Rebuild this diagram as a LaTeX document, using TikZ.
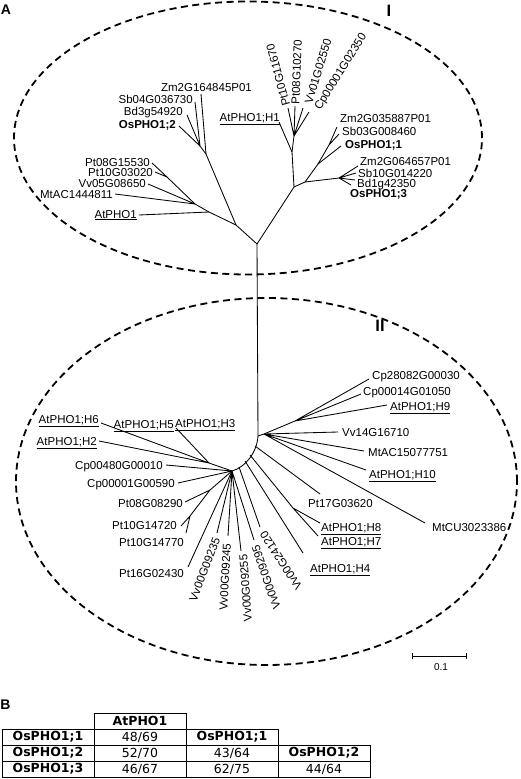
\documentclass[tikz,border=0pt]{standalone}
\usepackage{fontspec}
\setmainfont{Liberation Sans}
\newfontfamily\tabfont{DejaVu Sans}
\begin{document}
\begin{tikzpicture}[x=1pt,y=-1pt,
  br/.style={line width=0.85pt},
  ell/.style={line width=1.8pt, dash pattern=on 7pt off 4.5pt},
  lab/.style={inner sep=0pt, font=\fontsize{11.5}{13}\selectfont, text height=8.2pt, text depth=0pt},
  blab/.style={lab, font=\fontsize{11.5}{13}\selectfont\bfseries},
  tcell/.style={draw, line width=0.9pt, minimum width=92pt, minimum height=16pt, inner sep=0pt, font=\tabfont\fontsize{12.5}{14}\selectfont},
  tbold/.style={tcell, font=\tabfont\fontsize{12.5}{14}\selectfont\bfseries},
  panel/.style={inner sep=0pt, font=\fontsize{14}{16}\selectfont\bfseries},
  clus/.style={inner sep=0pt, font=\fontsize{16.5}{18}\selectfont\bfseries}]
\useasboundingbox (0,0) rectangle (520,779);

% panel and cluster labels
\node[panel] (pA) at (6,9.5) {A};
\node[panel] (pB) at (5.5,705) {B};
\node[clus] (cI) at (389,11) {I};
\node[clus] (cII) at (380,326) {II};

% ellipses
\draw[ell] (248,138) ellipse [x radius=234pt, y radius=136.5pt];
\draw[ell] (266.5,481.5) ellipse [x radius=250.5pt, y radius=183.5pt];

% ---------------- cluster I ----------------
\coordinate (A) at (257,244);
\coordinate (B) at (236,225);
\coordinate (H) at (209,212);
\coordinate (G) at (195,204);
\coordinate (Pn) at (167,177);
\coordinate (D) at (206,154);
\coordinate (E) at (200,146);
\coordinate (C) at (294,187);
\coordinate (J) at (292,152);
\coordinate (K) at (294,136);
\coordinate (L) at (305,182);
\coordinate (M) at (318,164);
\coordinate (N) at (329,145);
\coordinate (P) at (339,178);

\coordinate (tZmA) at (201,94);
\coordinate (tSb04) at (195,102);
\coordinate (tBd3) at (187,115);
\coordinate (tOs2) at (179,126);
\coordinate (tPt08) at (152,163);
\coordinate (tPt10) at (155,172);
\coordinate (tVv05) at (148,184);
\coordinate (tMt) at (115,194);
\coordinate (tAt) at (139,215);
\coordinate (tH1) at (279,122);
\coordinate (tPt10b) at (288,108);
\coordinate (tPt08b) at (295,106);
\coordinate (tVv01) at (303,108);
\coordinate (tCp) at (309,112);
\coordinate (tZmB) at (337,127);
\coordinate (tSb03) at (339,134);
\coordinate (tOs1) at (341,146);
\coordinate (tZmC) at (358,166);
\coordinate (tSb10) at (356,173);
\coordinate (tBd1) at (355,180);
\coordinate (tOs3) at (351,185);

\draw[br] (A) -- (B) -- (H) -- (G) -- (Pn);
\draw[br] (B) -- (D) -- (tZmA);
\draw[br] (D) -- (E);
\draw[br] (E) -- (tSb04) (E) -- (tBd3) (E) -- (tOs2);
\draw[br] (Pn) -- (tPt08) (Pn) -- (tPt10);
\draw[br] (G) -- (tVv05) (G) -- (tMt);
\draw[br] (H) -- (tAt);
\draw[br] (A) -- (C) -- (J) -- (K);
\draw[br] (J) -- (tH1);
\draw[br] (K) -- (tPt10b) (K) -- (tPt08b) (K) -- (tVv01) (K) -- (tCp);
\draw[br] (C) -- (L) -- (M) -- (N);
\draw[br] (N) -- (tZmB) (N) -- (tSb03) (M) -- (tOs1);
\draw[br] (L) -- (P);
\draw[br] (P) -- (tZmC) (P) -- (tSb10) (P) -- (tBd1) (P) -- (tOs3);

\node[lab] (lZmA) at (206.5,87) {Zm2G164845P01};
\node[lab, anchor=east] (lSb04) at (193,99) {Sb04G036730};
\node[lab, anchor=east] (lBd3) at (183,111) {Bd3g54920};
\node[blab, anchor=east] (lOs2) at (176,124) {OsPHO1;2};
\node[lab, anchor=east] (lPt08) at (150,162) {Pt08G15530};
\node[lab, anchor=east] (lPt10) at (153,172) {Pt10G03020};
\node[lab, anchor=east] (lVv05) at (146,183) {Vv05G08650};
\node[lab, anchor=east] (lMt) at (113,194) {MtAC1444811};
\node[lab, anchor=east] (lAt) at (137,214) {\underline{AtPHO1}};
\node[lab, anchor=east] (lH1) at (280,117) {\underline{AtPHO1;H1}};
\node[lab, rotate=105] (lPt10b) at (278,75) {Pt10G11670};
\node[lab, rotate=88] (lPt08b) at (296.5,72) {Pt08G10270};
\node[lab, rotate=73] (lVv01) at (318,71) {Vv01G02550};
\node[lab, rotate=58] (lCp) at (340,71.5) {Cp00001G02350};
\node[lab, anchor=west] (lZmB) at (340,118) {Zm2G035887P01};
\node[lab, anchor=west] (lSb03) at (342,131) {Sb03G008460};
\node[blab, anchor=west] (lOs1) at (345,144) {OsPHO1;1};
\node[lab, anchor=west] (lZmC) at (360,161) {Zm2G064657P01};
\node[lab, anchor=west] (lSb10) at (358,173) {Sb10G014220};
\node[lab, anchor=west] (lBd1) at (357,183) {Bd1g42350};
\node[blab, anchor=west] (lOs3) at (350,193) {OsPHO1;3};

% ---------------- stem ----------------
\coordinate (Q) at (258,436);
\draw[br] (A) -- (Q);

% ---------------- cluster II ----------------
\coordinate (R) at (264,434);
\coordinate (S) at (295,421);
\coordinate (V) at (232,471);
\coordinate (a1) at (255,446);
\coordinate (a2) at (250,455);
\coordinate (a3) at (245,461);
\coordinate (a4) at (239,467);
\coordinate (Y) at (293,508);
\coordinate (T) at (209,463);
\coordinate (W) at (210,490);
\coordinate (X) at (190,516);

\coordinate (tCp28) at (369,379);
\coordinate (tCp14) at (361,394);
\coordinate (tH9) at (387,405);
\coordinate (tVv14) at (338,432);
\coordinate (tMtAC) at (364,451);
\coordinate (tH10) at (366,470);
\coordinate (tMtCU) at (425,523);
\coordinate (tPt17) at (320,494);
\coordinate (tH8) at (320,523);
\coordinate (tH7) at (318,536);
\coordinate (tH4) at (303,553);
\coordinate (tVv24) at (260,527);
\coordinate (tH6) at (101,423);
\coordinate (tH53) at (176,428);
\coordinate (tH2) at (99,441);
\coordinate (tCp480) at (166,465);
\coordinate (tCp001) at (178,483);
\coordinate (tPt08c) at (185,502);
\coordinate (tPt1472) at (181,526);
\coordinate (tPt1477) at (186,533);
\coordinate (tPt16) at (188,567);
\coordinate (tVv235) at (217,533);
\coordinate (tVv245) at (228,536);
\coordinate (tVv255) at (241,551);
\coordinate (tVv295) at (254,540);

\draw[br] (Q) .. controls (257,452) and (246,467) .. (V);
\draw[br] (Q) -- (R) -- (S);
\draw[br] (S) -- (tCp28) (S) -- (tCp14) (S) -- (tH9);
\draw[br] (R) -- (tVv14) (R) -- (tMtAC) (R) -- (tH10) (R) -- (tMtCU);
\draw[br] (a1) -- (tPt17);
\draw[br] (a2) -- (Y) -- (tH8) (Y) -- (tH7);
\draw[br] (a3) -- (tH4);
\draw[br] (a4) -- (tVv24);
\draw[br] (V) -- (T);
\draw[br] (T) -- (tH6) (T) -- (tH53) (T) -- (tH2);
\draw[br] (V) -- (tCp480) (V) -- (tCp001);
\draw[br] (V) -- (W) -- (tPt08c) (W) -- (X) -- (tPt1472) (X) -- (tPt1477);
\draw[br] (V) -- (tPt16);
\draw[br] (V) -- (tVv235) (V) -- (tVv245) (V) -- (tVv255) (V) -- (tVv295);

\node[lab, anchor=west] (lCp28) at (372,375) {Cp28082G00030};
\node[lab, anchor=west] (lCp14) at (363,391) {Cp00014G01050};
\node[lab, anchor=west] (lH9) at (390,406) {\underline{AtPHO1;H9}};
\node[lab, anchor=west] (lVv14) at (342,432) {Vv14G16710};
\node[lab, anchor=west] (lMtAC) at (368,452) {MtAC15077751};
\node[lab, anchor=west] (lH10) at (369,474) {\underline{AtPHO1;H10}};
\node[lab, anchor=west] (lMtCU) at (432,527) {MtCU3023386};
\node[lab, anchor=west] (lPt17) at (308,503) {Pt17G03620};
\node[lab, anchor=west] (lH8) at (321,527) {\underline{AtPHO1;H8}};
\node[lab, anchor=west] (lH7) at (321,541) {\underline{AtPHO1;H7}};
\node[lab, anchor=west] (lH4) at (310,568) {\underline{AtPHO1;H4}};
\node[lab, rotate=69] (lVv235) at (204.5,569.5) {Vv00G09235};
\node[lab, rotate=87] (lVv245) at (225,577) {Vv00G09245};
\node[lab, rotate=94] (lVv255) at (245.5,588) {Vv00G09255};
\node[lab, rotate=109] (lVv295) at (266,577.5) {Vv00G09295};
\node[lab, rotate=123] (lVv24) at (281,561) {Vv00G24120};
\node[lab, anchor=east] (lH6) at (99,419) {\underline{AtPHO1;H6}};
\node[lab, anchor=east] (lH5) at (174,424) {\underline{AtPHO1;H5}};
\node[lab, anchor=west] (lH3) at (175,423) {\underline{AtPHO1;H3}};
\node[lab, anchor=east] (lH2) at (97,441) {\underline{AtPHO1;H2}};
\node[lab, anchor=east] (lCp480) at (163,465) {Cp00480G00010};
\node[lab, anchor=east] (lCp001) at (175,483) {Cp00001G00590};
\node[lab, anchor=east] (lPt08c) at (183,503) {Pt08G08290};
\node[lab, anchor=east] (lPt1472) at (177,525) {Pt10G14720};
\node[lab, anchor=east] (lPt1477) at (184,542) {Pt10G14770};
\node[lab, anchor=east] (lPt16) at (184,573) {Pt16G02430};

% scale bar
\coordinate (s1) at (412,656);
\coordinate (s2) at (466,656);
\draw[br] (s1) -- (s2);
\draw[br] ([yshift=3pt]s1) -- ([yshift=-3pt]s1);
\draw[br] ([yshift=3pt]s2) -- ([yshift=-3pt]s2);
\node[inner sep=0pt, font=\fontsize{10}{12}\selectfont] (sc) at (441,667) {0.1};

% ---------------- table B ----------------
\node[tbold] (t01) at (140,721) {AtPHO1};
\node[tbold] (t10) at (48,737) {OsPHO1;1};
\node[tcell] (t11) at (140,737) {48/69};
\node[tbold] (t12) at (232,737) {OsPHO1;1};
\node[tbold] (t20) at (48,753) {OsPHO1;2};
\node[tcell] (t21) at (140,753) {52/70};
\node[tcell] (t22) at (232,753) {43/64};
\node[tbold] (t23) at (324,753) {OsPHO1;2};
\node[tbold] (t30) at (48,769) {OsPHO1;3};
\node[tcell] (t31) at (140,769) {46/67};
\node[tcell] (t32) at (232,769) {62/75};
\node[tcell] (t33) at (324,769) {44/64};
\end{tikzpicture}
\end{document}
